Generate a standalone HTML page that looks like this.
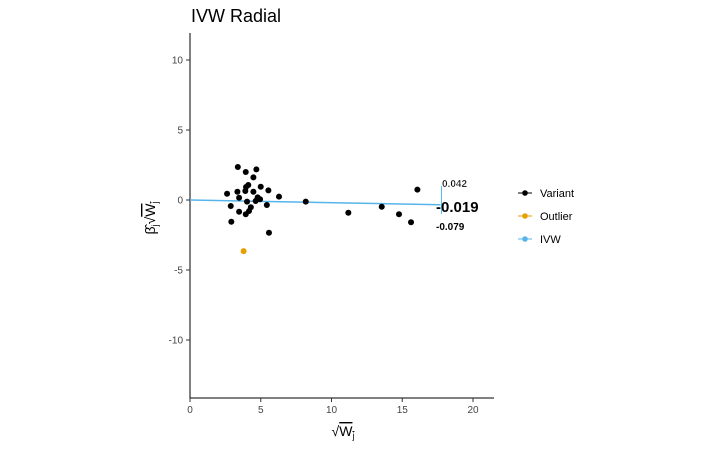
<!DOCTYPE html>
<html><head><meta charset="utf-8"><style>
body{margin:0;background:#fff;width:720px;height:451px;overflow:hidden;font-family:"Liberation Sans",sans-serif}
</style></head><body>
<svg id="c" width="720" height="451" xmlns="http://www.w3.org/2000/svg" font-family="Liberation Sans, sans-serif">
<text x="191" y="22" font-size="18" fill="#000">IVW Radial</text>
<g id="axes"></g>
<g id="marks"></g>
<text x="442" y="187" font-size="10" font-weight="bold" fill="#000" stroke="#fff" stroke-width="0.3">0.042</text>
<text x="436" y="212" font-size="15" font-weight="bold" fill="#000">-0.019</text>
<text x="436" y="230" font-size="10" font-weight="bold" fill="#000">-0.079</text>
<g transform="translate(155,218) rotate(-90)">
<text x="0" y="0" font-size="14" text-anchor="middle">β̂<tspan font-size="9" dy="3">j</tspan><tspan dy="-3">√</tspan><tspan text-decoration="overline">W<tspan font-size="9" dy="3">j</tspan></tspan></text>
</g>
<text x="343" y="436" font-size="14" text-anchor="middle">√<tspan text-decoration="overline">W<tspan font-size="9" dy="3">j</tspan></tspan></text>
<g>
<g><line x1="518" y1="193" x2="532" y2="193" stroke="#000"/><circle cx="525" cy="193" r="2.8" fill="#000"/><text x="540" y="197" font-size="11">Variant</text></g>
<g><line x1="518" y1="216" x2="532" y2="216" stroke="#E69F00"/><circle cx="525" cy="216" r="2.8" fill="#E69F00"/><text x="540" y="220" font-size="11">Outlier</text></g>
<g><line x1="518" y1="239" x2="532" y2="239" stroke="#56B4E9"/><circle cx="525" cy="239" r="2.8" fill="#56B4E9"/><text x="540" y="243" font-size="11">IVW</text></g>
</g>
</svg>
<script>
const xTicks=[0,5,10,15,20];
const yTicks=[-10,-5,0,5,10];
const variantX=[3.38,3.94,4.69,4.48,2.62,3.35,3.96,4.12,3.91,4.48,5.0,5.54,6.29,3.47,4.78,4.95,4.03,4.64,5.43,2.88,4.3,4.17,3.47,3.94,2.92,5.58,8.18,11.19,13.55,14.77,15.62,16.07];
const variantY=[2.36,2.0,2.19,1.62,0.45,0.59,0.93,1.07,0.64,0.59,0.95,0.69,0.24,0.16,0.19,0.05,-0.12,-0.07,-0.36,-0.43,-0.52,-0.79,-0.84,-1.02,-1.55,-2.34,-0.12,-0.91,-0.48,-1.02,-1.59,0.74];
const outlierX=[3.79];
const outlierY=[-3.65];
const ivwSlope=-0.019, ivwLo=-0.079, ivwHi=0.042, ivwEnd=17.7;
const sx=v=>190+v*14.15, sy=v=>200-v*14;
const NS="http://www.w3.org/2000/svg";
function mk(tag,attrs,parent){const e=document.createElementNS(NS,tag);for(const k in attrs)e.setAttribute(k,attrs[k]);parent.appendChild(e);return e;}
const ax=document.getElementById('axes'), mg=document.getElementById('marks');
const xa=mk('line',{x1:190,y1:398,x2:494,y2:398,stroke:'#000'},ax);


const ya=mk('line',{x1:190,y1:33,x2:190,y2:398,stroke:'#000'},ax);


xTicks.forEach(t=>{
  mk('line',{x1:sx(t),y1:398,x2:sx(t),y2:402,stroke:'#333'},ax);
  const tx=mk('text',{x:sx(t),y:413,'font-size':10,'text-anchor':'middle',fill:'#444'},ax);tx.textContent=t;
  
  
});
yTicks.forEach(t=>{
  mk('line',{x1:186,y1:sy(t),x2:190,y2:sy(t),stroke:'#333'},ax);
  const tx=mk('text',{x:183,y:sy(t)+3.5,'font-size':10,'text-anchor':'end',fill:'#444'},ax);tx.textContent=t;
  
  
});
const ln=mk('line',{x1:sx(0),y1:sy(0),x2:sx(ivwEnd),y2:sy(ivwSlope*ivwEnd),stroke:'#56B4E9','stroke-width':1.5},mg);


const br=mk('line',{x1:sx(ivwEnd)+1,y1:sy(ivwHi*ivwEnd*0+1.0),x2:sx(ivwEnd)+1,y2:sy(-1.0),stroke:'#56B4E9','stroke-width':1},mg);


variantX.forEach((x,i)=>{
  const c=mk('circle',{cx:sx(x),cy:sy(variantY[i]),r:3,fill:'#000'},mg);
  
  
});
outlierX.forEach((x,i)=>{
  const c=mk('circle',{cx:sx(x),cy:sy(outlierY[i]),r:3,fill:'#E69F00'},mg);
  
  
});
</script>
</body></html>
